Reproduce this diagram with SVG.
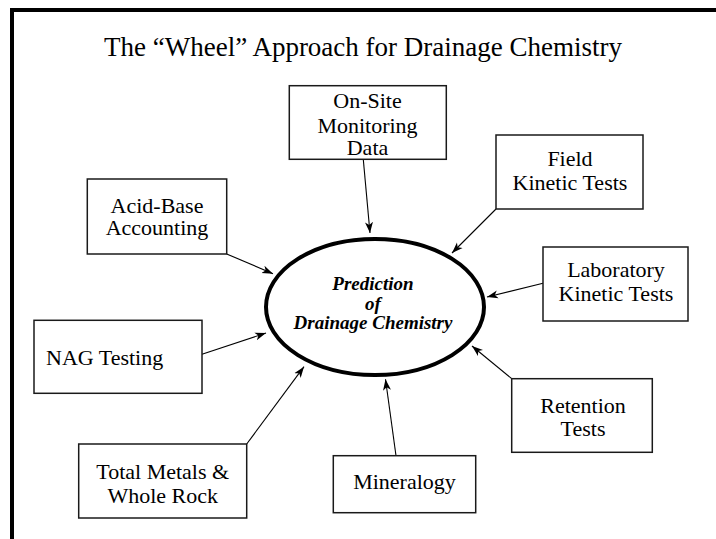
<svg xmlns="http://www.w3.org/2000/svg" width="716" height="539" viewBox="0 0 716 539">
<defs>
<style>
text{font-family:'Liberation Serif','Times New Roman',Times,'DejaVu Serif',serif}
.box{fill:#fff;stroke:#1a1a1a;stroke-width:1.5}
.t{font-size:22px;fill:#000;text-anchor:middle}
.title{font-size:27px;fill:#000;text-anchor:middle}
.c{font-size:19px;font-weight:bold;font-style:italic;fill:#000;text-anchor:middle}
.conn{stroke:#000;stroke-width:1.1;fill:none;marker-end:url(#ah)}
</style>
<marker id="ah" markerUnits="userSpaceOnUse" markerWidth="12" markerHeight="9" refX="11" refY="4" orient="auto" viewBox="0 0 12 8">
<path d="M0,0 L11,4 L0,8 L3,4 z" fill="#000"/>
</marker>
</defs>
<rect width="716" height="539" fill="#fff"/>
<g id="frame">
<rect x="10" y="8" width="706" height="4" fill="#000"/>
<rect x="10" y="8" width="4" height="531" fill="#000"/>
</g>
<g font-family="Liberation Serif, Times New Roman, serif">
<text class="title" x="363" y="56">The “Wheel” Approach for Drainage Chemistry</text>
</g>
<g id="connectors">
<line class="conn" x1="363.3" y1="159.5" x2="370" y2="233"/>
<line class="conn" x1="496" y1="209" x2="452" y2="253"/>
<line class="conn" x1="543" y1="283.3" x2="487" y2="297"/>
<line class="conn" x1="511.7" y1="378.7" x2="472" y2="346"/>
<line class="conn" x1="396" y1="455.7" x2="385.5" y2="379.3"/>
<line class="conn" x1="246.7" y1="444" x2="304" y2="366.7"/>
<line class="conn" x1="202" y1="354.3" x2="266" y2="333"/>
<line class="conn" x1="226.7" y1="254" x2="273" y2="273.7"/>
</g>
<g id="center" font-family="Liberation Serif, Times New Roman, serif">
<ellipse cx="375" cy="307" rx="109" ry="68" fill="#fff" stroke="#000" stroke-width="4"/>
<text class="c" x="373" y="290">Prediction</text>
<text class="c" x="373" y="310">of</text>
<text class="c" x="373" y="328.5">Drainage Chemistry</text>
</g>
<g id="onsite">
<rect class="box" x="289.3" y="85.7" width="157" height="73.6"/>
<text class="t" x="367.5" y="107.7">On-Site</text>
<text class="t" x="367.5" y="132.5">Monitoring</text>
<text class="t" x="367.5" y="155">Data</text>
</g>
<g id="field">
<rect class="box" x="496" y="135" width="147" height="74"/>
<text class="t" x="570" y="166">Field</text>
<text class="t" x="570" y="190">Kinetic Tests</text>
</g>
<g id="lab">
<rect class="box" x="543" y="247" width="145" height="74"/>
<text class="t" x="616" y="277">Laboratory</text>
<text class="t" x="616" y="301">Kinetic Tests</text>
</g>
<g id="retention">
<rect class="box" x="511.7" y="378.7" width="140.6" height="73.6"/>
<text class="t" x="583" y="412.7">Retention</text>
<text class="t" x="583" y="436">Tests</text>
</g>
<g id="mineralogy">
<rect class="box" x="333.3" y="455.7" width="142.4" height="57"/>
<text class="t" x="404.5" y="489.3">Mineralogy</text>
</g>
<g id="totalmetals">
<rect class="box" x="78.7" y="444" width="168" height="74"/>
<text class="t" x="162.7" y="479">Total Metals &amp;</text>
<text class="t" x="162.7" y="502.7">Whole Rock</text>
</g>
<g id="nag">
<rect class="box" x="34" y="320.3" width="168" height="73"/>
<text class="t" x="46" y="365" style="text-anchor:start">NAG Testing</text>
</g>
<g id="acidbase">
<rect class="box" x="87.3" y="179" width="139.4" height="75"/>
<text class="t" x="157" y="212.7">Acid-Base</text>
<text class="t" x="157" y="235">Accounting</text>
</g>
</svg>
